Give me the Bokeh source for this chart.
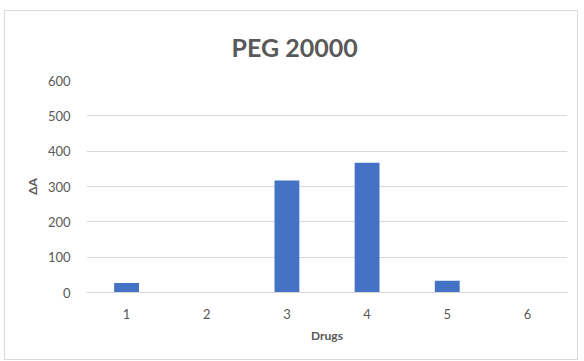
from bokeh.plotting import figure
from bokeh.models import FactorRange, Range1d, FixedTicker, ColumnDataSource
from bokeh.embed import file_html
from bokeh.resources import INLINE

# Data
drugs = ["1", "2", "3", "4", "5", "6"]
delta_a = [27, 0, 317, 367, 33, 0]
y_ticks = [0, 100, 200, 300, 400, 500, 600]

FONT = "Lato"
GREY = "#595959"

source = ColumnDataSource(data=dict(drug=drugs, value=delta_a))

p = figure(
    width=572, height=348,
    margin=(11, 7, 2, 5),
    styles={"outline": "1px solid #d9d9d9"},
    x_range=FactorRange(*drugs),
    y_range=Range1d(0, 600),
    output_backend="svg",
    toolbar_location=None,
    min_border_left=81, min_border_right=10,
    min_border_top=68, min_border_bottom=67,
    outline_line_color=None,
    background_fill_color="white",
    border_fill_color="white",
)

p.vbar(x="drug", top="value", width=0.31, source=source,
       fill_color="#4472C4", line_color=None)

# Title
p.title.text = "PEG 20000"
p.title.align = "left"
p.title.text_font = FONT
p.title.text_font_size = "25px"
p.title.text_font_style = "bold"
p.title.text_color = GREY
p.title.offset = 145
p.title.standoff = 37

# Y axis
p.yaxis.ticker = FixedTicker(ticks=y_ticks)
p.yaxis.axis_line_color = None
p.yaxis.major_tick_line_color = None
p.yaxis.minor_tick_line_color = None
p.yaxis.major_label_text_font = FONT
p.yaxis.major_label_text_font_size = "13px"
p.yaxis.major_label_text_color = GREY
p.yaxis.major_label_standoff = 10
p.yaxis.axis_label = "ΔA"
p.yaxis.axis_label_text_font = FONT
p.yaxis.axis_label_text_font_size = "12px"
p.yaxis.axis_label_text_font_style = "bold"
p.yaxis.axis_label_text_color = GREY
p.yaxis.axis_label_standoff = 5

# X axis
p.xaxis.axis_line_color = "#d9d9d9"
p.xaxis.major_tick_line_color = None
p.xaxis.minor_tick_line_color = None
p.xaxis.major_label_text_font = FONT
p.xaxis.major_label_text_font_size = "13px"
p.xaxis.major_label_text_color = GREY
p.xaxis.major_label_standoff = 10
p.xaxis.axis_label = "Drugs"
p.xaxis.axis_label_text_font = FONT
p.xaxis.axis_label_text_font_size = "12px"
p.xaxis.axis_label_text_font_style = "bold"
p.xaxis.axis_label_text_color = GREY
p.xaxis.axis_label_standoff = 6

# Grid
p.xgrid.grid_line_color = None
p.ygrid.grid_line_color = "#d9d9d9"
p.ygrid.grid_line_width = 1

open("out.html", "w").write(file_html(p, INLINE))
